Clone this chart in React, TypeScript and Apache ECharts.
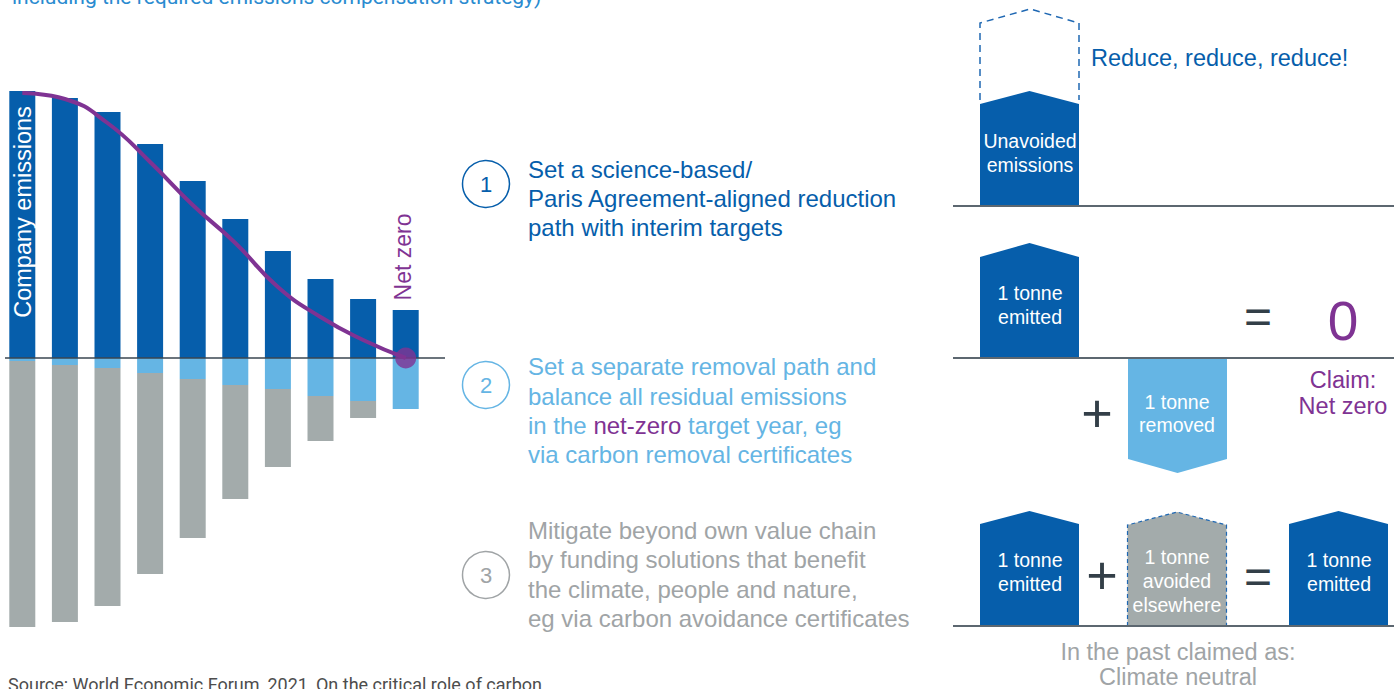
import React, { useEffect, useRef } from "react";
import * as echarts from "echarts";

// ---- Data ----
const years = ["1", "2", "3", "4", "5", "6", "7", "8", "9", "10"];
const companyEmissions = [267, 260, 246, 214, 177, 139, 107, 79, 59, 48];
const removals = [-3, -7, -10, -15, -21, -27, -31, -38, -43, -51];
const avoidance = [-266, -257, -238, -201, -159, -114, -78, -45, -17, 0];
const reductionPath = [265, 259, 235, 196, 153, 115, 71, 41, 18, 0];
const netZeroPoint = ["-", "-", "-", "-", "-", "-", "-", "-", "-", 0];

const step1Lines = [
  "Set a science-based/",
  "Paris Agreement-aligned reduction",
  "path with interim targets",
];
const step2Lines = [
  "Set a separate removal path and",
  "balance all residual emissions",
  "in the {p|net-zero} target year, eg",
  "via carbon removal certificates",
];
const step3Lines = [
  "Mitigate beyond own value chain",
  "by funding solutions that benefit",
  "the climate, people and nature,",
  "eg via carbon avoidance certificates",
];

const DARK = "#065eab";
const LIGHT = "#65b5e4";
const GRAY = "#a3abab";
const PURPLE = "#7f3393";
const INK = "#333f48";
const RULE = "#5c6770";
const TEXTGRAY = "#a0a4a6";
const FONT = "'Liberation Sans', Arial, sans-serif";

function txt(
  text: string,
  x: number,
  y: number,
  size: number,
  fill: string,
  align: string = "left",
  extra: any = {}
) {
  return {
    type: "text",
    x,
    y,
    z: 20,
    silent: true,
    ...extra,
    style: {
      text,
      fill,
      fontSize: size,
      fontFamily: FONT,
      textAlign: align,
      textVerticalAlign: "middle",
      ...(extra.style || {}),
    },
  };
}

function house(x0: number, x1: number, bottom: number, shoulder: number, peak: number) {
  const cx = (x0 + x1) / 2;
  return [
    [x0, bottom],
    [x0, shoulder],
    [cx, peak],
    [x1, shoulder],
    [x1, bottom],
  ];
}

export default function App() {
  const ref = useRef<HTMLDivElement>(null);

  useEffect(() => {
    if (!ref.current) return;
    const chart = echarts.init(ref.current, null, { renderer: "svg" });

    const graphics: any[] = [];

    // Cut-off intro text and source
    graphics.push({
      type: "text",
      x: 12,
      y: -3.5,
      style: {
        text: "including the required emissions compensation strategy)",
        fill: "#2a8bd0",
        fontSize: 21,
        fontFamily: "Roboto, sans-serif",
        textVerticalAlign: "middle",
      },
    });
    graphics.push({
      type: "text",
      x: 8,
      y: 684.5,
      style: {
        text: "Source: World Economic Forum, 2021, On the critical role of carbon",
        fill: "#4d4d4d",
        fontSize: 18,
        fontFamily: "Roboto, sans-serif",
        textVerticalAlign: "middle",
      },
    });

    // Chart baseline
    graphics.push({
      type: "line",
      z: 5,
      shape: { x1: 5, y1: 358, x2: 445, y2: 358 },
      style: { stroke: "#3a4650", lineWidth: 1.5 },
    });

    // Rotated labels
    graphics.push(
      txt("Company emissions", 23, 212, 23.5, "#ffffff", "center", { rotation: Math.PI / 2 })
    );
    graphics.push(txt("Net zero", 403, 257, 23, PURPLE, "center", { rotation: Math.PI / 2 }));

    // Step circles and texts
    const steps = [
      { n: "1", cy: 184, color: DARK, lines: step1Lines, ys: [169, 198, 227] },
      { n: "2", cy: 385, color: LIGHT, lines: step2Lines, ys: [366, 396, 425, 454] },
      { n: "3", cy: 575, color: TEXTGRAY, lines: step3Lines, ys: [530, 559, 589, 618] },
    ];
    steps.forEach((s) => {
      graphics.push({
        type: "circle",
        shape: { cx: 486, cy: s.cy, r: 23.5 },
        style: { fill: "none", stroke: s.color, lineWidth: 1.5 },
      });
      graphics.push(txt(s.n, 486, s.cy, 22, s.color, "center"));
      s.lines.forEach((line, i) => {
        graphics.push(
          txt(line, 528, s.ys[i], 24, s.color, "left", {
            style: { rich: { p: { fill: PURPLE, fontSize: 24, fontFamily: FONT } } },
          })
        );
      });
    });

    // Right side: rules
    [206, 358, 626].forEach((y) => {
      graphics.push({
        type: "line",
        z: 15,
        shape: { x1: 953, y1: y, x2: 1394, y2: y },
        style: { stroke: RULE, lineWidth: 2 },
      });
    });

    // Row 1
    graphics.push({
      type: "polyline",
      shape: {
        points: [
          [980, 100],
          [980, 23],
          [1030, 9],
          [1079, 23],
          [1079, 100],
        ],
      },
      style: { stroke: "#1f68b3", lineWidth: 1.5, lineDash: [7, 5], fill: "none" },
    });
    graphics.push({
      type: "polygon",
      shape: { points: house(980, 1079, 206, 104, 91) },
      style: { fill: DARK },
    });
    graphics.push(txt("Unavoided", 1030, 141, 19.5, "#ffffff", "center"));
    graphics.push(txt("emissions", 1030, 165, 19.5, "#ffffff", "center"));
    graphics.push(txt("Reduce, reduce, reduce!", 1091, 58, 23.5, DARK, "left"));

    // Row 2
    graphics.push({
      type: "polygon",
      shape: { points: house(980, 1079, 358, 257, 243) },
      style: { fill: DARK },
    });
    graphics.push(txt("1 tonne", 1030, 293, 19.5, "#ffffff", "center"));
    graphics.push(txt("emitted", 1030, 317, 19.5, "#ffffff", "center"));
    graphics.push({
      type: "polygon",
      shape: { points: house(1128, 1227, 359, 459, 473) },
      style: { fill: LIGHT },
    });
    graphics.push(txt("1 tonne", 1177, 402, 19.5, "#ffffff", "center"));
    graphics.push(txt("removed", 1177, 425, 19.5, "#ffffff", "center"));
    graphics.push(txt("+", 1097, 413, 54, INK, "center"));
    graphics.push(txt("=", 1258, 316, 48, INK, "center"));
    graphics.push(txt("0", 1343, 321, 55, PURPLE, "center"));
    graphics.push(txt("Claim:", 1343, 380, 23.5, PURPLE, "center"));
    graphics.push(txt("Net zero", 1343, 406, 23.5, PURPLE, "center"));

    // Row 3
    graphics.push({
      type: "polygon",
      shape: { points: house(980, 1079, 626, 524, 511) },
      style: { fill: DARK },
    });
    graphics.push(txt("1 tonne", 1030, 560, 19.5, "#ffffff", "center"));
    graphics.push(txt("emitted", 1030, 584, 19.5, "#ffffff", "center"));
    graphics.push(txt("+", 1102, 575, 54, INK, "center"));
    graphics.push({
      type: "polygon",
      shape: { points: house(1127.5, 1226.5, 626, 525, 512) },
      style: { fill: GRAY, stroke: "#1f68b3", lineWidth: 1.2, lineDash: [4, 3] },
    });
    graphics.push(txt("1 tonne", 1177, 557, 19.5, "#ffffff", "center"));
    graphics.push(txt("avoided", 1177, 581, 19.5, "#ffffff", "center"));
    graphics.push(txt("elsewhere", 1177, 605, 19.5, "#ffffff", "center"));
    graphics.push(txt("=", 1258, 576, 48, INK, "center"));
    graphics.push({
      type: "polygon",
      shape: { points: house(1289, 1388, 626, 524, 511) },
      style: { fill: DARK },
    });
    graphics.push(txt("1 tonne", 1339, 560, 19.5, "#ffffff", "center"));
    graphics.push(txt("emitted", 1339, 584, 19.5, "#ffffff", "center"));
    graphics.push(txt("In the past claimed as:", 1178, 652, 23.5, TEXTGRAY, "center"));
    graphics.push(txt("Climate neutral", 1178, 677, 23.5, TEXTGRAY, "center"));

    chart.setOption({
      animation: false,
      backgroundColor: "#ffffff",
      grid: { left: 1, top: 78, width: 426, height: 560, containLabel: false },
      xAxis: {
        type: "category",
        data: years,
        axisLine: { show: false },
        axisTick: { show: false },
        axisLabel: { show: false },
        splitLine: { show: false },
      },
      yAxis: {
        type: "value",
        min: -280,
        max: 280,
        show: false,
        splitLine: { show: false },
      },
      series: [
        {
          name: "Company emissions",
          type: "bar",
          stack: "total",
          barWidth: 26,
          data: companyEmissions,
          itemStyle: { color: DARK },
          z: 2,
        },
        {
          name: "Removals",
          type: "bar",
          stack: "total",
          barWidth: 26,
          data: removals,
          itemStyle: { color: LIGHT },
          z: 2,
        },
        {
          name: "Avoidance",
          type: "bar",
          stack: "total",
          barWidth: 26,
          data: avoidance,
          itemStyle: { color: GRAY },
          z: 2,
        },
        {
          name: "Reduction path",
          type: "line",
          data: reductionPath,
          smooth: 0.5,
          symbol: "none",
          lineStyle: { color: PURPLE, width: 4 },
          z: 8,
        },
        {
          name: "Net zero",
          type: "scatter",
          data: netZeroPoint,
          symbolSize: 21,
          itemStyle: { color: PURPLE },
          z: 10,
        },
      ],
      graphic: graphics,
    });

    return () => chart.dispose();
  }, []);

  return (
    <div
      ref={ref}
      style={{ position: "absolute", left: 0, top: 0, width: 1394, height: 689 }}
    />
  );
}
